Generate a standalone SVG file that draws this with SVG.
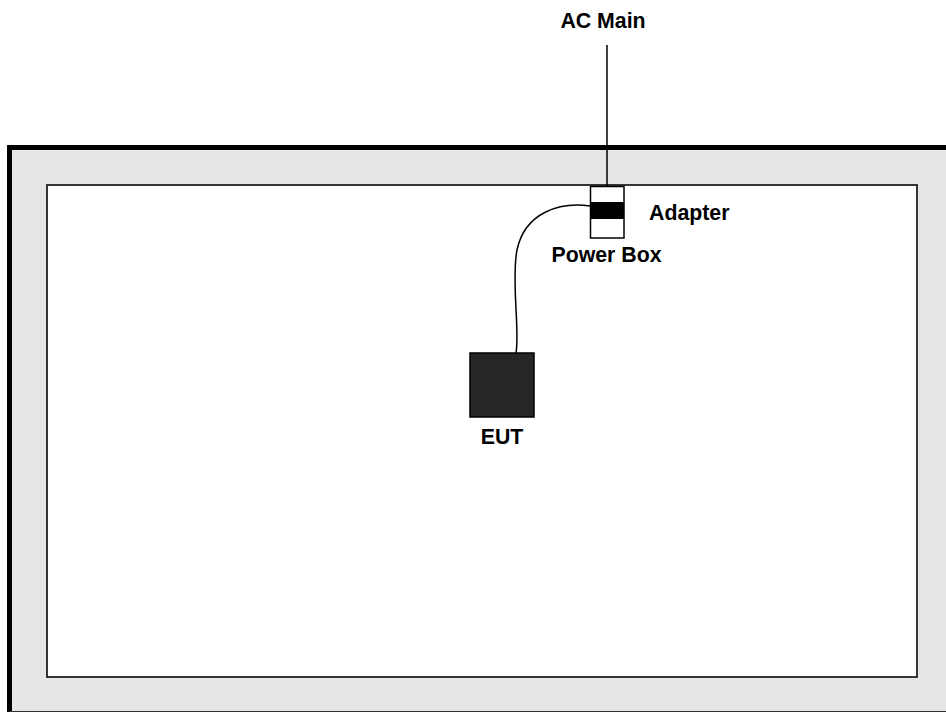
<svg xmlns="http://www.w3.org/2000/svg" width="946" height="713" viewBox="0 0 946 713">
<style>
.t{font-family:"Liberation Sans",Arial,sans-serif;font-weight:bold;font-size:21.3px;fill:#000}
.ln{fill:none;stroke:#000;stroke-width:1.5}
</style>
<rect width="946" height="713" fill="#fff"/>
<g id="room">
<rect x="9.5" y="147.5" width="940" height="564" fill="#e6e6e6"/>
<path d="M9.5 712 V147.5 H946" fill="none" stroke="#000" stroke-width="5"/>
<line x1="9.5" y1="711.5" x2="946" y2="711.5" stroke="#333" stroke-width="1.2"/>
<rect x="47" y="185" width="870" height="492" fill="#fff" stroke="#222" stroke-width="1.8"/>
</g>
<g id="connectors">
<line class="ln" x1="607" y1="45" x2="607" y2="186"/>
<path class="ln" d="M590 206 C560 202 525 212 517 250 C511 280 520 330 516 353"/>
</g>
<g id="powerbox">
<rect x="590.5" y="186.5" width="33.5" height="51.5" fill="#fff" stroke="#000" stroke-width="1.5"/>
<rect x="590.5" y="202" width="33.5" height="17" fill="#000"/>
</g>
<g id="eut">
<rect x="470" y="353" width="64" height="64" fill="#262626" stroke="#000" stroke-width="1.5"/>
</g>
<g id="labels">
<text class="t" x="603" y="28" text-anchor="middle">AC Main</text>
<text class="t" x="649" y="220">Adapter</text>
<text class="t" x="551.5" y="262">Power Box</text>
<text class="t" x="502" y="444" text-anchor="middle">EUT</text>
</g>
</svg>
